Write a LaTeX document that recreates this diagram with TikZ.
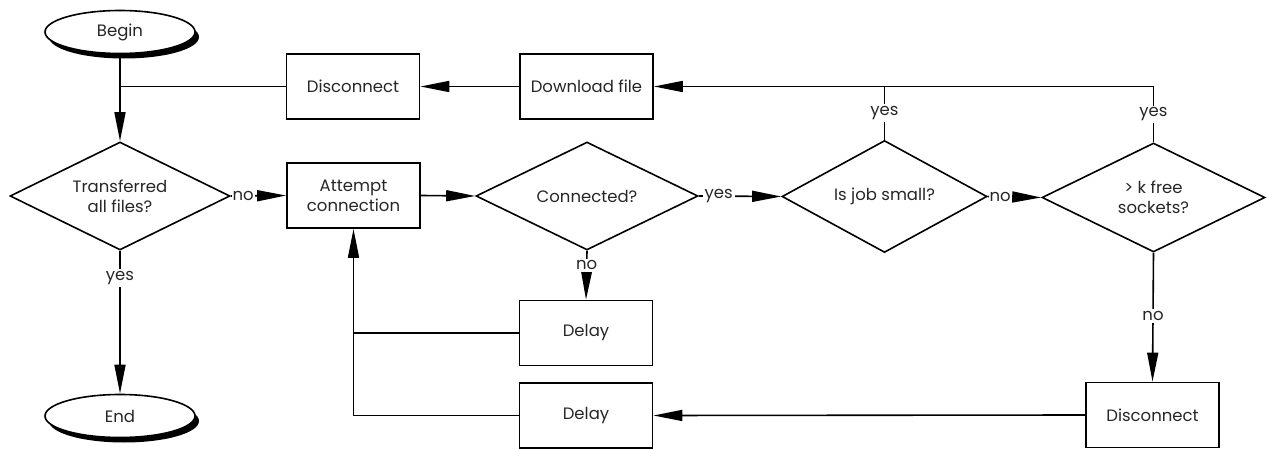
\documentclass[tikz,border=0pt]{standalone}
\usepackage{fontspec}
\setmainfont{Poppins}
\usetikzlibrary{shapes.geometric,arrows.meta}
\begin{document}
\begin{tikzpicture}[x=1pt,y=-1pt,
  every node/.style={font=\fontsize{16.5}{20}\selectfont, text=black!85},
  conn/.style={line width=1.6pt},
  arr/.style={conn,-{Triangle[length=29pt,width=11pt]}},
  box/.style={draw,line width=1.8pt,rectangle,minimum width=133pt,minimum height=65pt,inner sep=0pt,align=center},
  dia/.style={draw,line width=1.6pt,diamond,aspect=2,inner sep=0pt,align=center},
  term/.style={draw,line width=1.6pt,ellipse,fill=white,minimum width=150pt,minimum height=43pt,inner sep=0pt},
  lab/.style={fill=white,inner sep=2pt}
]
\useasboundingbox (0,0) rectangle (1267,449);
% shadows of terminals
\fill[black] (124,37) ellipse [x radius=75pt, y radius=21.5pt];
\fill[black] (124,421) ellipse [x radius=75pt, y radius=21.5pt];
\node[term] (begin) at (120,32) {Begin};
\node[term] (end) at (120,416) {End};

\node[box] (disc1) at (353,86.5) {Disconnect};
\node[box] (dl) at (586.5,86.5) {Download file};
\node[box] (attempt) at (353.5,195.5) {Attempt\\connection};
\node[box] (delay1) at (586,333) {Delay};
\node[box] (delay2) at (586,415.5) {Delay};
\node[box] (disc2) at (1152.5,415) {Disconnect};

\node[dia,minimum width=220pt,minimum height=108pt] (trans) at (120,196) {Transferred\\all files?};
\node[dia,minimum width=222pt,minimum height=108pt] (conn) at (587,196) {Connected?};
\node[dia,minimum width=205pt,minimum height=112pt] (small) at (884.5,196.5) {Is job small?};
\node[dia,minimum width=223pt,minimum height=109pt] (sock) at (1153.5,197.5) {> k free\\sockets?};

% connectors
\draw[arr] (begin.south) -- (trans.north);
\draw[conn] (disc1.west) -- (disc1.west -| begin.south);
\draw[arr] (dl.west) -- (disc1.east);
\draw[arr] (sock.north) -- node[lab]{yes} (sock.north |- dl.east) -- (dl.east);
\draw[conn] (small.north) -- node[lab]{yes} (small.north |- dl.east);
\draw[arr] (trans.east) -- node[lab,pos=0,anchor=west,inner sep=1pt]{no} (attempt.west);
\draw[arr] (attempt.east) -- (conn.west);
\draw[arr] (conn.east) -- node[lab,pos=0,anchor=west,xshift=3pt]{yes} (small.west);
\draw[arr] (small.east) -- node[lab,pos=0,anchor=west,inner sep=1pt]{no} (sock.west);
\draw[arr] (conn.south) -- node[lab,pos=0.3]{no} (delay1.north);
\draw[arr] (sock.south) -- node[lab,pos=0.49]{no} (disc2.north);
\draw[arr] (trans.south) -- node[lab,pos=0.19]{yes} (end.north);
\draw[arr] (disc2.west) -- (delay2.east);
\draw[arr] (delay2.west) -- (attempt.south |- delay2.west) -- (attempt.south);
\draw[conn] (delay1.west) -- (attempt.south |- delay1.west);
\end{tikzpicture}
\end{document}
